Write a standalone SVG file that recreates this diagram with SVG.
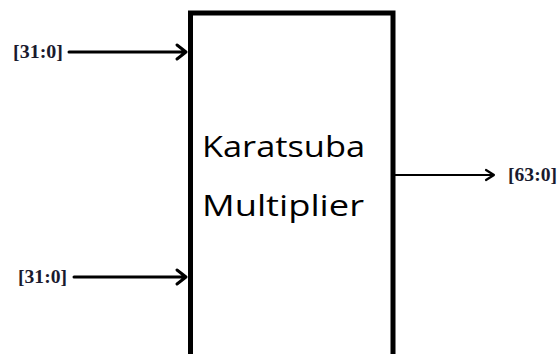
<svg xmlns="http://www.w3.org/2000/svg" width="558" height="354" viewBox="0 0 558 354">
<style>
.lbl{font-family:"Liberation Serif",serif;font-weight:bold;font-size:19px;fill:#1a1a2e}
.big{font-family:"Open Sans","Noto Sans",sans-serif;font-size:29px;fill:#000}
.wire{stroke:#000;fill:none;stroke-linecap:round;stroke-linejoin:round}
</style>
<rect width="558" height="354" fill="#fff"/>
<g id="block">
<path d="M190.5 354 V13 H393 V354" fill="#fff" stroke="#000" stroke-width="5"/>
<text class="big" x="202" y="157" textLength="163" lengthAdjust="spacingAndGlyphs">Karatsuba</text>
<text class="big" x="202" y="216" textLength="162" lengthAdjust="spacingAndGlyphs">Multiplier</text>
</g>
<g id="in_a"><text class="lbl" x="13" y="58" textLength="50" lengthAdjust="spacingAndGlyphs">[31:0]</text></g>
<g id="in_b"><text class="lbl" x="18" y="283" textLength="49" lengthAdjust="spacingAndGlyphs">[31:0]</text></g>
<g id="out"><text class="lbl" x="508" y="181" textLength="49" lengthAdjust="spacingAndGlyphs">[63:0]</text></g>
<g id="connectors">
<path class="wire" stroke-width="3" d="M69 52 H186 M177 45 L186 52 L177 59"/>
<path class="wire" stroke-width="3" d="M74 277 H186 M177 270 L186 277 L177 284"/>
<path class="wire" stroke-width="2.2" d="M395 175 H494 M486 170 L494 175 L486 180"/>
</g>
</svg>
